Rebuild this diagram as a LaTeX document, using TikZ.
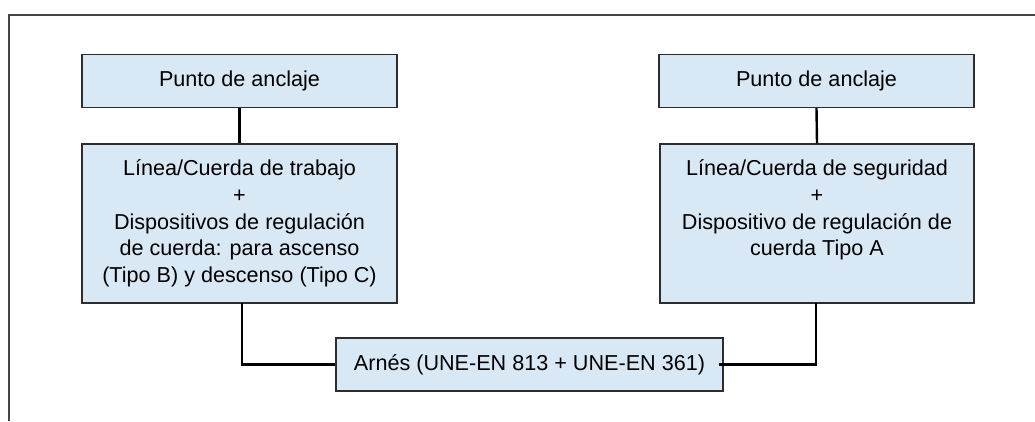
\documentclass[tikz,border=0pt]{standalone}
\usepackage{fontspec}
\setmainfont{Liberation Sans}
\definecolor{boxfill}{RGB}{217,232,245}
\definecolor{boxline}{RGB}{45,45,45}
\definecolor{framegray}{RGB}{70,70,70}
\begin{document}
\begin{tikzpicture}[x=1pt,y=-1pt,
  box/.style={draw=boxline,line width=1.4pt,fill=boxfill,minimum width=#1,inner sep=0pt},
  lbl/.style={align=center,font=\fontsize{21.6pt}{26.7pt}\selectfont,inner sep=0pt},
  conn/.style={draw=black,line width=2.4pt}]
\useasboundingbox (0,0) rectangle (1035,421);
% frame
\draw[framegray,line width=1.5pt] (9,421) -- (9,15) -- (1035,15);
% boxes
\node[box=315pt,minimum height=53pt] (a1) at (239.5,81) {};
\node[box=315pt,minimum height=159pt] (b1) at (239.5,223.5) {};
\node[box=315pt,minimum height=53pt] (a2) at (816.5,81) {};
\node[box=314pt,minimum height=159pt] (b2) at (817,223.5) {};
\node[box=387pt,minimum height=53pt] (h) at (529.5,364.5) {};
% labels
\node[lbl] (a1t) at (a1.center) {Punto de anclaje};
\node[lbl] (a2t) at (a2.center) {Punto de anclaje};
\node[lbl] (b1t) at (b1.center) {Línea/Cuerda de trabajo\\+\\Dispositivos de regulación\\de cuerda: para ascenso\\(Tipo B) y descenso (Tipo C)};
\node[lbl] (b2t) at (817,210) {Línea/Cuerda de seguridad\\+\\Dispositivo de regulación de\\cuerda Tipo A};
\node[lbl] (ht) at (h.center) {Arnés (UNE-EN 813 + UNE-EN 361)};
% connectors
\draw[conn] (a1.south) -- (b1.north);
\draw[conn] (a2.south) -- (b2.north);
\coordinate (b1s) at (242,303);
\coordinate (hl) at (h.west);
\draw[conn] (b1s) |- (hl);
\coordinate (b2s) at (816,303);
\draw[conn] ([xshift=-5pt]h.east) -| (b2s);
\end{tikzpicture}
\end{document}
